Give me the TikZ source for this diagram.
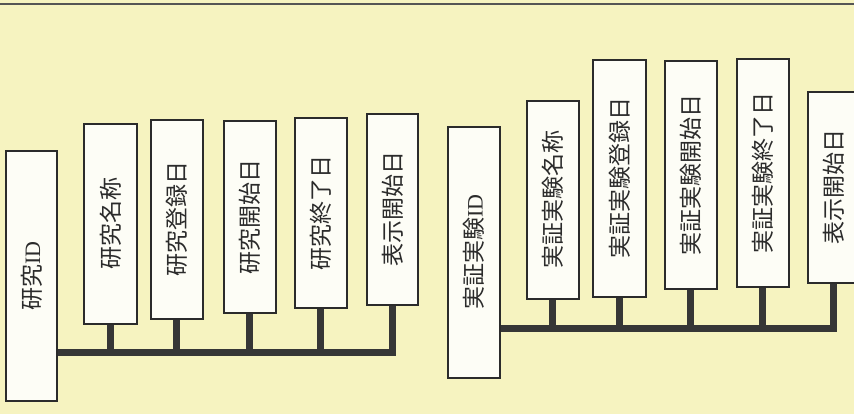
\documentclass[tikz,border=0pt]{standalone}
\usepackage{fontspec}
\newfontfamily\jp{Noto Sans CJK JP}
\newfontfamily\idfont{Liberation Serif}
\usepackage{graphicx}
\definecolor{bgy}{HTML}{F6F3C0}
\definecolor{boxfill}{HTML}{FDFDF6}
\definecolor{ink}{HTML}{2B2B2B}
\definecolor{busc}{HTML}{363636}
\tikzset{
  fbox/.style={draw=ink, fill=boxfill, line width=1.6pt, anchor=north west, inner sep=0pt, font=\jp\fontsize{23}{23}\selectfont, text=ink},
  busline/.style={draw=busc, line width=7pt, line join=miter},
}
\newcommand{\vt}[1]{\rotatebox{90}{#1}}
\begin{document}
\begin{tikzpicture}[x=1pt,y=-1pt]
\useasboundingbox (0,0) rectangle (854,414);
\clip (0,0) rectangle (854,414);
\fill[bgy] (0,0) rectangle (854,414);
\draw[line width=1.5pt, color=ink!80] (0,4) -- (854,4);
% left group
\node[fbox, minimum width=51pt, minimum height=250pt] (a0) at (5,150) {\vt{研究{\idfont\fontsize{22}{22}\selectfont ID}}};
\node[fbox, minimum width=53pt, minimum height=200pt] (a1) at (83,123) {\vt{研究名称}};
\node[fbox, minimum width=52pt, minimum height=199pt] (a2) at (150,119) {\vt{研究登録日}};
\node[fbox, minimum width=52pt, minimum height=192pt] (a3) at (223,120) {\vt{研究開始日}};
\node[fbox, minimum width=52pt, minimum height=190pt] (a4) at (294,117) {\vt{研究終了日}};
\node[fbox, minimum width=51pt, minimum height=191pt] (a5) at (366,113) {\vt{表示開始日}};
\coordinate (busL) at (0,352);
\draw[busline] (a0.east |- busL) -| (a5.south);
\foreach \n in {a1,a2,a3,a4} \draw[busline] (\n.south) -- (\n.south |- busL);
% right group
\node[fbox, minimum width=52pt, minimum height=251pt] (b0) at (447,126) {\vt{実証実験{\idfont\fontsize{22}{22}\selectfont ID}}};
\node[fbox, minimum width=52pt, minimum height=198pt] (b1) at (526,100) {\vt{実証実験名称}};
\node[fbox, minimum width=53pt, minimum height=237pt] (b2) at (592,59) {\vt{実証実験登録日}};
\node[fbox, minimum width=52pt, minimum height=228pt] (b3) at (664,60) {\vt{実証実験開始日}};
\node[fbox, minimum width=52pt, minimum height=228pt] (b4) at (736,58) {\vt{実証実験終了日}};
\node[fbox, minimum width=52pt, minimum height=191pt] (b5) at (807,91) {\vt{表示開始日}};
\coordinate (busR) at (0,328);
\draw[busline] (b0.east |- busR) -| (b5.south);
\foreach \n in {b1,b2,b3,b4} \draw[busline] (\n.south) -- (\n.south |- busR);
\end{tikzpicture}
\end{document}
